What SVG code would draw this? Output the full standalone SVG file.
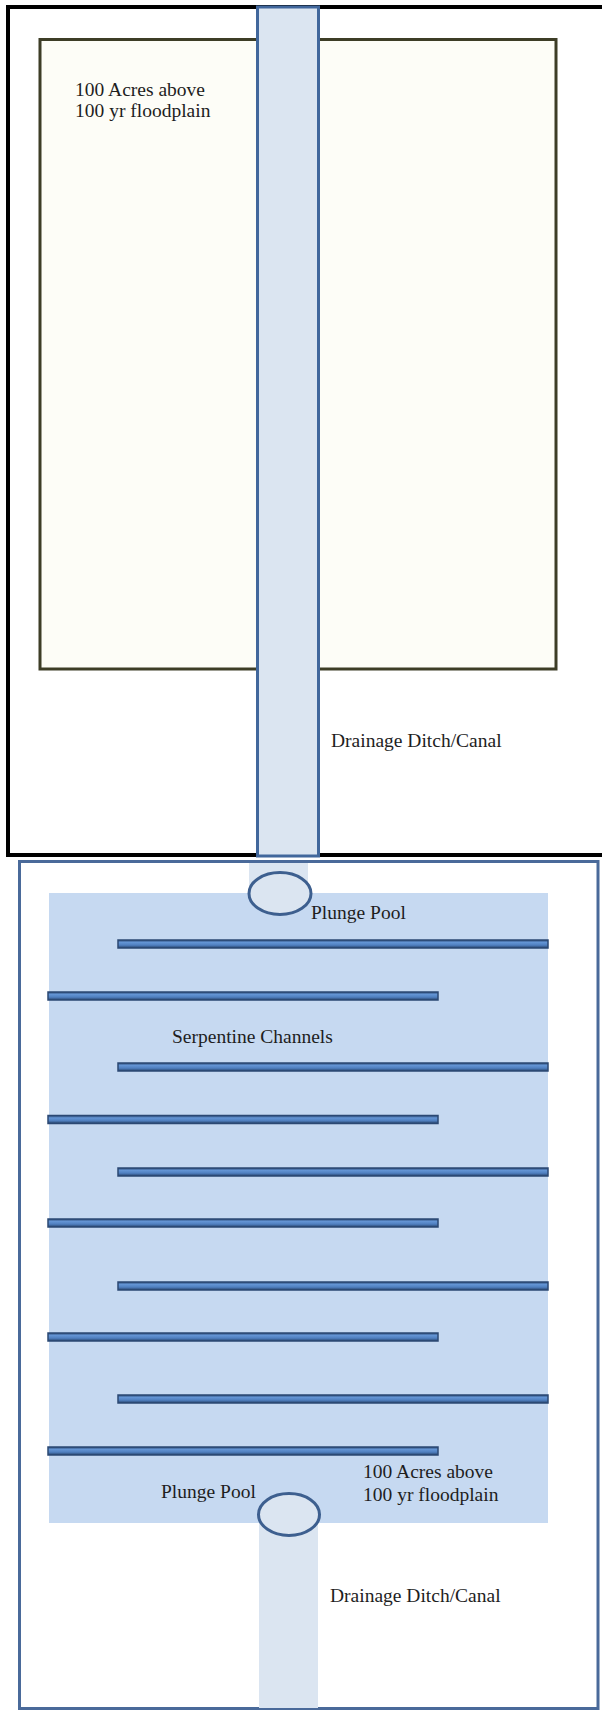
<svg xmlns="http://www.w3.org/2000/svg" width="602" height="1710" viewBox="0 0 602 1710">
  <defs>
    <linearGradient id="barGrad" x1="0" y1="0" x2="0" y2="1">
      <stop offset="0" stop-color="#2c4a75"/>
      <stop offset="0.3" stop-color="#6394d4"/>
      <stop offset="0.65" stop-color="#4f7fbf"/>
      <stop offset="1" stop-color="#27426a"/>
    </linearGradient>
    <style>
      .lbl { font-family: "Liberation Serif", "Times New Roman", serif; font-size: 19.5px; fill: #1e1e1e; }
      .bar { fill: url(#barGrad); stroke: #2b4873; stroke-width: 1.5; }
      .pool { fill: #dbe5f1; stroke: #3d5f8f; stroke-width: 3; }
      .ditch { fill: #dbe5f1; }
    </style>
  </defs>

  <rect x="0" y="0" width="602" height="1710" fill="#ffffff"/>

  <!-- Upper panel -->
  <g id="upper-panel">
    <rect x="8" y="7" width="604" height="848" fill="#ffffff" stroke="#000000" stroke-width="4"/>
  </g>
  <g id="upper-land">
    <rect x="40" y="39.5" width="516" height="629.5" fill="#fdfdf7" stroke="#3d3d26" stroke-width="3"/>
    <text class="lbl" x="75" y="96">100 Acres above</text>
    <text class="lbl" x="75" y="117">100 yr floodplain</text>
  </g>

  <!-- Lower panel -->
  <g id="lower-panel">
    <rect x="19.5" y="861.5" width="578.5" height="847" fill="#ffffff" stroke="#4a6a9a" stroke-width="3"/>
  </g>
  <g id="lower-land">
    <rect x="49" y="893" width="499" height="630" fill="#c6d9f1"/>
    <text class="lbl" x="363" y="1478">100 Acres above</text>
    <text class="lbl" x="363" y="1501">100 yr floodplain</text>
  </g>

  <!-- Ditches / connectors -->
  <g id="connectors">
    <rect id="upper-ditch" x="257.5" y="7" width="61" height="849" fill="#dbe5f1" stroke="#41679c" stroke-width="3"/>
    <rect class="ditch" x="249" y="863" width="59" height="30"/>
    <rect class="ditch" x="259" y="1523" width="59" height="185"/>
  </g>

  <g id="upper-ditch-label">
    <text class="lbl" x="331" y="747">Drainage Ditch/Canal</text>
  </g>

  <!-- Serpentine channels -->
  <g id="serpentine-channels">
    <rect class="bar" x="118" y="940" width="430" height="8"/>
    <rect class="bar" x="48" y="992" width="390" height="8"/>
    <rect class="bar" x="118" y="1063" width="430" height="8"/>
    <rect class="bar" x="48" y="1115.5" width="390" height="8"/>
    <rect class="bar" x="118" y="1168" width="430" height="8"/>
    <rect class="bar" x="48" y="1219" width="390" height="8"/>
    <rect class="bar" x="118" y="1282" width="430" height="8"/>
    <rect class="bar" x="48" y="1333" width="390" height="8"/>
    <rect class="bar" x="118" y="1395" width="430" height="8"/>
    <rect class="bar" x="48" y="1447" width="390" height="8"/>
    <text class="lbl" x="172" y="1043">Serpentine Channels</text>
  </g>

  <!-- Plunge pools -->
  <g id="plunge-pool-top">
    <ellipse class="pool" cx="280" cy="893.5" rx="31" ry="21"/>
    <text class="lbl" x="311" y="919">Plunge Pool</text>
  </g>
  <g id="plunge-pool-bottom">
    <ellipse class="pool" cx="289" cy="1514.5" rx="30.5" ry="21"/>
    <text class="lbl" x="161" y="1498">Plunge Pool</text>
  </g>

  <g id="lower-ditch-label">
    <text class="lbl" x="330" y="1602">Drainage Ditch/Canal</text>
  </g>
</svg>
